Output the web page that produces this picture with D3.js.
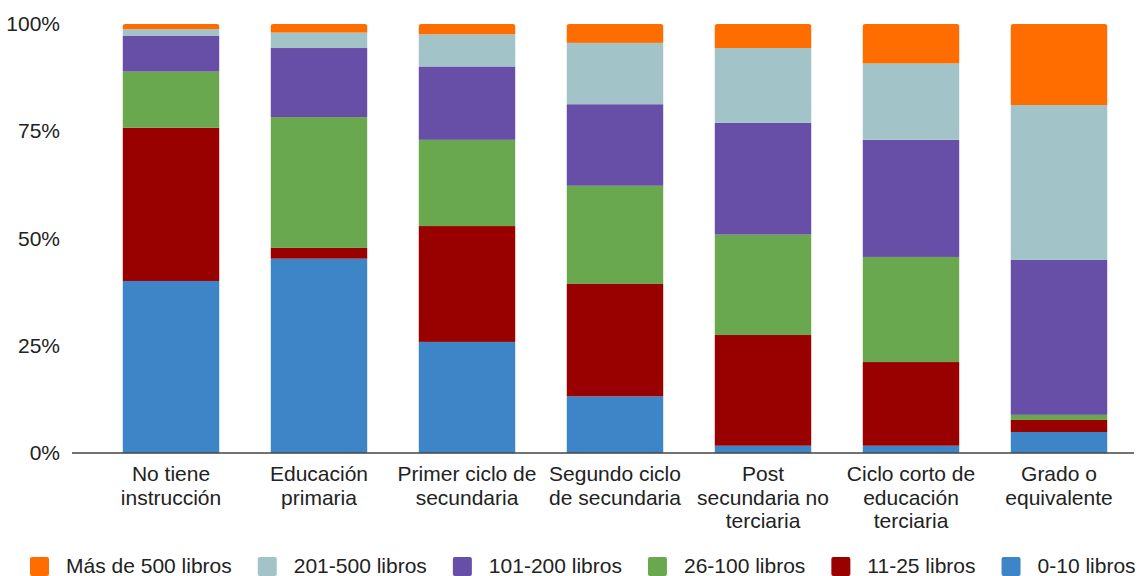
<!DOCTYPE html>
<html>
<head>
<meta charset="utf-8">
<script src="https://cdn.jsdelivr.net/npm/d3@7"></script>
<style>
  html, body { margin: 0; padding: 0; background: #fff; }
  svg { display: block; font-family: "Liberation Sans", Arial, sans-serif; }
</style>
</head>
<body>
<svg id="chart" width="1144" height="576"></svg>
<script>
// ---- data ----
const categories = [
  ["No tiene", "instrucción"],
  ["Educación", "primaria"],
  ["Primer ciclo de", "secundaria"],
  ["Segundo ciclo", "de secundaria"],
  ["Post", "secundaria no", "terciaria"],
  ["Ciclo corto de", "educación", "terciaria"],
  ["Grado o", "equivalente"]
];
const seriesNames = ["0-10 libros", "11-25 libros", "26-100 libros", "101-200 libros", "201-500 libros", "Más de 500 libros"];
const s0_10    = [40.1, 45.3, 25.9, 13.2, 1.7, 1.7, 4.9];
const s11_25   = [35.7, 2.5, 27.0, 26.2, 25.8, 19.5, 2.8];
const s26_100  = [13.1, 30.5, 20.1, 22.9, 23.4, 24.5, 1.2];
const s101_200 = [8.4, 16.1, 17.1, 19.0, 26.1, 27.3, 36.1];
const s201_500 = [1.5, 3.6, 7.5, 14.3, 17.4, 17.8, 36.1];
const s500     = [1.2, 2.0, 2.4, 4.4, 5.6, 9.2, 18.9];
const yTicks = [0, 25, 50, 75, 100];
const colors = ["#3d85c6", "#990000", "#6aa84f", "#674ea7", "#a2c4c9", "#ff6d01"];
const legendOrder = [5, 4, 3, 2, 1, 0];

// ---- build table ----
const seriesVals = [s0_10, s11_25, s26_100, s101_200, s201_500, s500];
const rows = categories.map((c, i) => {
  const r = { key: i };
  seriesNames.forEach((n, j) => r[n] = seriesVals[j][i]);
  return r;
});
const stacked = d3.stack().keys(seriesNames)(rows);

const FS = 21;
const svg = d3.select("#chart");
const x = d3.scaleBand().domain(d3.range(categories.length)).range([97, 1133])
  .paddingInner(0.345).paddingOuter(0.1725);
const y = d3.scaleLinear().domain([0, 100]).range([453, 24]);

// clip paths for rounded tops
const defs = svg.append("defs");
categories.forEach((c, i) => {
  defs.append("clipPath").attr("id", "clip" + i)
    .append("rect")
    .attr("x", x(i)).attr("y", y(100))
    .attr("width", x.bandwidth()).attr("height", y(0) - y(100) + 10)
    .attr("rx", 3).attr("ry", 3);
});

const barsG = svg.append("g");
categories.forEach((c, i) => {
  const g = barsG.append("g").attr("clip-path", `url(#clip${i})`);
  stacked.forEach((layer, j) => {
    const d = layer[i];
    g.append("rect")
      .attr("x", x(i))
      .attr("y", y(d[1]))
      .attr("width", x.bandwidth())
      .attr("height", Math.max(0, y(d[0]) - y(d[1])))
      .attr("fill", colors[j]);
  });
});

// y axis labels
const yAxis = d3.axisLeft(y).tickValues(yTicks).tickSize(0).tickPadding(0).tickFormat(d => d + "%");
const ya = svg.append("g").attr("transform", "translate(60,0)").call(yAxis);
ya.select(".domain").remove();
ya.selectAll("text").attr("font-size", FS).attr("fill", "#222")
  .attr("font-family", "'Liberation Sans', Arial, sans-serif");

// baseline
svg.append("line").attr("x1", 72).attr("x2", 1134).attr("y1", y(0)).attr("y2", y(0))
  .attr("stroke", "#444").attr("stroke-width", 1.5);

// x labels
const xl = svg.append("g");
categories.forEach((lines, i) => {
  const t = xl.append("text")
    .attr("x", x(i) + x.bandwidth() / 2)
    .attr("y", 481)
    .attr("text-anchor", "middle")
    .attr("font-size", FS).attr("fill", "#222");
  lines.forEach((ln, k) => {
    t.append("tspan").attr("x", x(i) + x.bandwidth() / 2).attr("dy", k === 0 ? 0 : 23.5).text(ln);
  });
});

// legend
const lg = svg.append("g");
let lx = 30;
legendOrder.forEach(j => {
  lg.append("rect").attr("x", lx).attr("y", 557).attr("width", 19).attr("height", 19)
    .attr("rx", 2).attr("fill", colors[j]);
  const t = lg.append("text").attr("x", lx + 36).attr("y", 573)
    .attr("font-size", FS).attr("fill", "#222").text(seriesNames[j]);
  const w = t.node().getComputedTextLength();
  lx = lx + 36 + w + 26;
});
</script>
</body>
</html>
